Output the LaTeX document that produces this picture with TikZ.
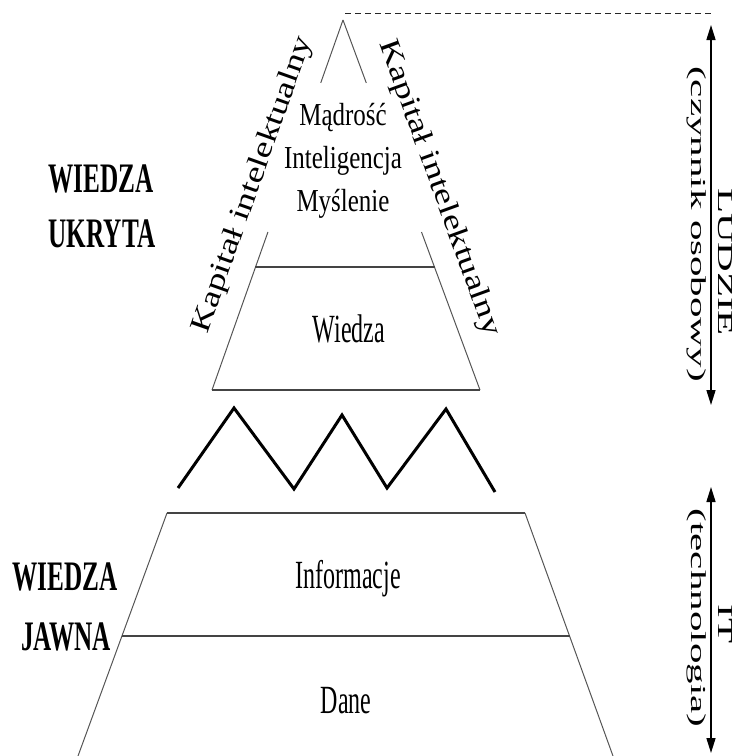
\documentclass[tikz,border=0pt]{standalone}
\usepackage{fontspec}
\usepackage{graphicx}
\usepackage{tikz}
\usetikzlibrary{arrows.meta, positioning, calc}
\setmainfont{Liberation Serif}
\newfontfamily\narrowfont[FakeStretch=0.6]{Liberation Serif}
\newfontfamily\midfont[FakeStretch=0.78]{Liberation Serif}
\definecolor{lineGray}{HTML}{555555}
\definecolor{barGray}{HTML}{444444}

\begin{document}
\begin{tikzpicture}[x=1pt, y=-1pt,
  side/.style={draw=lineGray, line width=1pt},
  bar/.style={draw=barGray, line width=1.8pt},
  level/.style={font=\narrowfont\fontsize{40}{44}\selectfont, anchor=base, inner sep=0pt},
  toplevel/.style={font=\midfont\fontsize{32}{40}\selectfont, anchor=base, inner sep=0pt},
  kind/.style={font=\narrowfont\bfseries\fontsize{42}{46}\selectfont, anchor=base, inner sep=0pt},
  slant/.style={font=\fontsize{40}{44}\selectfont, inner sep=0pt},
  vlabel/.style={font=\fontsize{41}{44}\selectfont, inner sep=0pt, rotate=-90},
  span/.style={{Triangle[length=15pt, width=9pt]}-{Triangle[length=15pt, width=9pt]}, line width=1.5pt},
  zig/.style={line width=3pt, line join=miter}
]
  \useasboundingbox (0,0) rectangle (739,756);

  % upper pyramid
  \coordinate (apex) at (343,20);
  \coordinate (ubl) at (212,390);
  \coordinate (ubr) at (480,390);
  \draw[side] (apex) -- ($(apex)!0.17!(ubl)$);
  \draw[side] (apex) -- ($(apex)!0.17!(ubr)$);
  \draw[side] ($(apex)!0.573!(ubl)$) -- (ubl);
  \draw[side] ($(apex)!0.573!(ubr)$) -- (ubr);
  \draw[bar] ($(apex)!0.668!(ubl)$) -- ($(apex)!0.668!(ubr)$);
  \draw[bar] (ubl) -- (ubr);

  % lower pyramid
  \coordinate (ltl) at (167,513);
  \coordinate (ltr) at (525,513);
  \coordinate (lbl) at (78,756);
  \coordinate (lbr) at (613,756);
  \draw[side] (ltl) -- (lbl);
  \draw[side] (ltr) -- (lbr);
  \draw[bar] (ltl) -- (ltr);
  \draw[bar] ($(ltl)!0.506!(lbl)$) -- ($(ltr)!0.506!(lbr)$);

  % zigzag between the two parts
  \draw[zig] (178,488) -- (234,408) -- (294,489) -- (342,415) -- (387,488) -- (446,409) -- (495,492);

  \node[toplevel] (mad) at (343,125) {Mądrość};
  \node[toplevel] (intel) at (343,168) {Inteligencja};
  \node[toplevel] (mysl) at (343,211) {Myślenie};
  \node[level] (wiedza) at (349,342) {Wiedza};
  \node[level] (info) at (348,588) {Informacje};
  \node[level] (dane) at (346,713) {Dane};

  \node[kind] (wu1) at (101,192) {WIEDZA};
  \node[kind] (wu2) at (102,247) {UKRYTA};
  \node[kind] (wj1) at (65,590) {WIEDZA};
  \node[kind] (wj2) at (66,650) {JAWNA};

  \node[slant, rotate=70.5] (kapL) at (253,185) {\scalebox{0.93}[0.72]{Kapitał intelektualny}};
  \node[slant, rotate=-70] (kapR) at (439,188) {\scalebox{0.93}[0.72]{Kapitał intelektualny}};

  % right-hand scale
  \coordinate (dashL) at (345,13);
  \coordinate (dashR) at (712,13);
  \draw[dashed, dash pattern=on 6pt off 4pt, line width=1pt, black!85] (dashL) -- (dashR);

  \coordinate (ludTop) at (711,25);
  \coordinate (ludBot) at (711,405);
  \coordinate (itTop) at (711,487);
  \coordinate (itBot) at (711,753);
  \draw[span] (ludTop) -- (ludBot);
  \draw[span] (itTop) -- (itBot);

  \node[vlabel] (ludzie) at (725,262) {\scalebox{1}[0.52]{LUDZIE}};
  \node[vlabel] (osob) at (697,224) {\scalebox{1}[0.52]{(czynnik osobowy)}};
  \node[vlabel] (it) at (725,624) {\scalebox{1}[0.52]{IT}};
  \node[vlabel] (tech) at (697,618) {\scalebox{1}[0.52]{(technologia)}};
\end{tikzpicture}
\end{document}
